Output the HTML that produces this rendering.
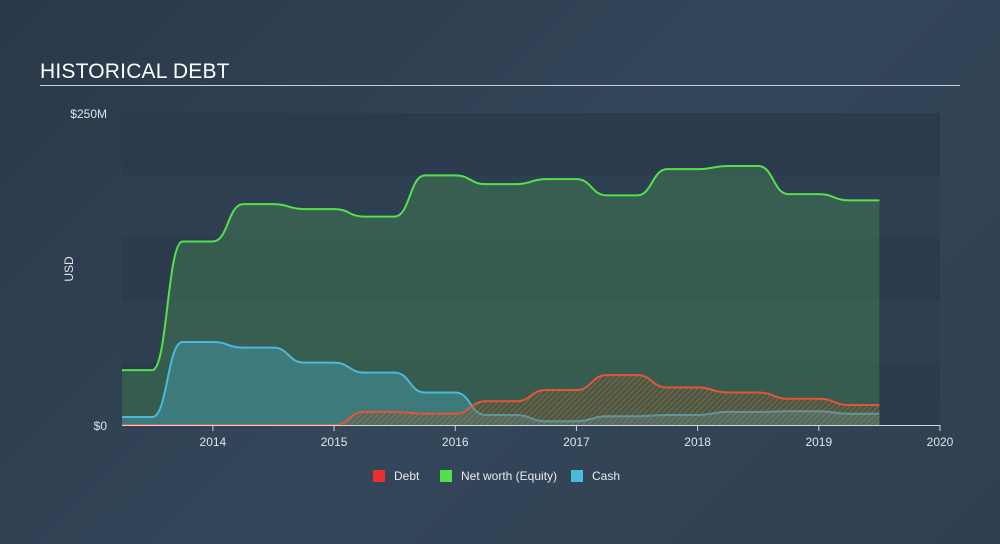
<!DOCTYPE html>
<html><head><meta charset="utf-8">
<style>
html,body{margin:0;padding:0;}
body{width:1000px;height:544px;background:linear-gradient(135deg,#2a3848 0%,#34465a 50%,#2f4050 100%);font-family:"Liberation Sans",sans-serif;overflow:hidden;position:relative;}
.title{position:absolute;left:40px;top:60px;color:#fff;font-size:21px;letter-spacing:0.2px;}
.rule{position:absolute;left:40px;top:85px;width:920px;height:1px;background:#c8ced6;}
svg{position:absolute;left:0;top:0;}
</style></head><body>
<div class="title">HISTORICAL DEBT</div>
<div class="rule"></div>
<svg id="chart" width="1000" height="544">
<defs>
<pattern id="hatch" width="4" height="4" patternUnits="userSpaceOnUse" patternTransform="rotate(45)">
<rect width="4" height="4" fill="rgba(120,80,50,0.35)"/>
<line x1="0" y1="0" x2="0" y2="4" stroke="rgba(210,140,90,0.55)" stroke-width="1.2"/>
</pattern>
</defs>
</svg>
<script>
const years=[2013.25,2013.5,2013.75,2014,2014.25,2014.5,2014.75,2015,2015.25,2015.5,2015.75,2016,2016.25,2016.5,2016.75,2017,2017.25,2017.5,2017.75,2018,2018.25,2018.5,2018.75,2019,2019.25,2019.5];
const netWorth=[44,44,147,147,177,177,173,173,167,167,200,200,193,193,197,197,184,184,205,205,207.5,207.5,185,185,180,180];
const cash=[6.4,6.4,66.5,66.5,62,62,50,50,42,42,26,26,8,8,3,3,7,7,8,8,10.5,10.5,11,11,9,9];
const debt=[0,0,0,0,0,0,0,0,10.5,10.5,9,9,19,19,28,28,40,40,30,30,26,26,21,21,16,16];
const xTicks=[2014,2015,2016,2017,2018,2019,2020];
const yTickLabels=["$0","$250M"];
const yMax=250;
const X0=122,X1=940,Y0=425,Y1=113;
const xScale=v=>X0+(v-2013.25)/(2020-2013.25)*(X1-X0);
const yScale=v=>Y0-v/yMax*(Y0-Y1);
const svg=document.getElementById('chart');
const NS='http://www.w3.org/2000/svg';
function mk(tag,attrs){const e=document.createElementNS(NS,tag);for(const k in attrs)e.setAttribute(k,attrs[k]);svg.appendChild(e);return e;}
// bands
for(let i=0;i<5;i++){
  const r=mk('rect',{x:X0,y:Y1+i*(Y0-Y1)/5,width:X1-X0,height:(Y0-Y1)/5,fill:i%2?'#2f3f52':'#2b3a4c'});
  
  
}
function linePath(vals){
  let d='';
  for(let i=0;i<years.length;i++){
    const x=xScale(years[i]),y=yScale(vals[i]);
    if(i===0)d+=`M${x},${y}`;
    else{const px=xScale(years[i-1]),py=yScale(vals[i-1]),mx=(px+x)/2;d+=` C${mx},${py} ${mx},${y} ${x},${y}`;}
  }
  return d;
}
function areaPath(vals){
  return linePath(vals)+` L${xScale(years[years.length-1])},${Y0} L${xScale(years[0])},${Y0} Z`;
}
const series=[
  {name:'net-worth',vals:netWorth,fill:'rgba(62,120,80,0.55)',stroke:'#54e24c'},
  {name:'cash',vals:cash,fill:'rgba(70,160,180,0.45)',stroke:'#4ab9da'},
  {name:'debt',vals:debt,fill:'url(#hatch)',stroke:'#e5553a'}
];
series.forEach(s=>{
  const a=mk('path',{d:areaPath(s.vals),fill:s.fill,stroke:'none'});
  
  
  const l=mk('path',{d:linePath(s.vals),fill:'none',stroke:s.stroke,'stroke-width':2});
  
  
});
// axis
const ax=mk('line',{x1:X0,y1:Y0+0.5,x2:X1,y2:Y0+0.5,stroke:'#d0d6dd','stroke-width':1});


xTicks.forEach(t=>{
  const tk=mk('line',{x1:xScale(t),y1:Y0,x2:xScale(t),y2:Y0+6,stroke:'#d0d6dd'});
  
  
  const tx=mk('text',{x:xScale(t),y:Y0+21,fill:'#e0e4e8','font-size':12,'text-anchor':'middle'});
  
  
  tx.textContent=t;
});
[[0,yTickLabels[0]],[yMax,yTickLabels[1]]].forEach(([v,lab])=>{
  const tx=mk('text',{x:107,y:yScale(v)+5,fill:'#e0e4e8','font-size':12,'text-anchor':'end'});
  
  
  tx.textContent=lab;
});
const yt=mk('text',{x:73,y:269,fill:'#e0e4e8','font-size':12,'text-anchor':'middle',transform:'rotate(-90 73 269)'});


yt.textContent='USD';
// legend
[['Debt','#e8312f',373],['Net worth (Equity)','#4fe24a',440],['Cash','#4ab9da',571]].forEach(([lab,c,x])=>{
  const r=mk('rect',{x:x,y:470,width:12,height:12,fill:c});
  
  
  const t=mk('text',{x:x+21,y:480,fill:'#e8ecf0','font-size':12});
  
  
  t.textContent=lab;
});
</script>
</body></html>
